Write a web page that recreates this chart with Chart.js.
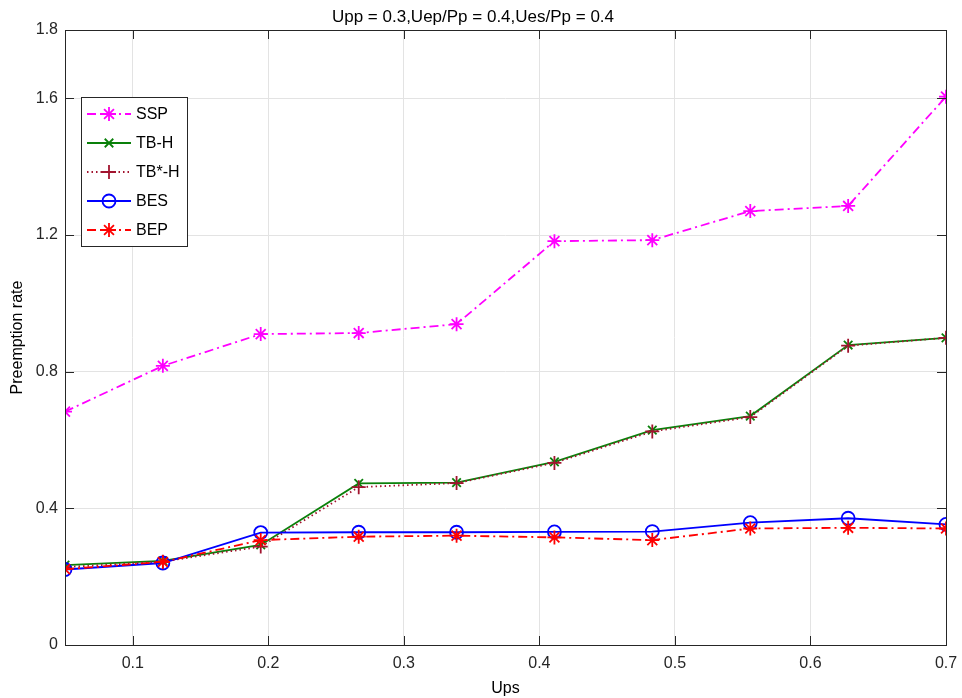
<!DOCTYPE html>
<html>
<head>
<meta charset="utf-8">
<script src="https://cdn.jsdelivr.net/npm/chart.js@4.4.0/dist/chart.umd.min.js"></script>
<style>
	html, body { margin: 0; padding: 0; background: #fff; }
</style>
</head>
<body>
<canvas id="myChart" width="962" height="698"></canvas>
<script>
// x values (Ups) and the five series
const upsValues = [0.05, 0.1222, 0.1944, 0.2667, 0.3389, 0.4111, 0.4833, 0.5556, 0.6278, 0.7];
const sspRate = [0.683, 0.817, 0.910, 0.913, 0.939, 1.182, 1.185, 1.270, 1.285, 1.605];
const tbhRate = [0.234, 0.246, 0.293, 0.473, 0.475, 0.536, 0.629, 0.670, 0.878, 0.899];
const tbStarRate = [0.228, 0.244, 0.288, 0.462, 0.474, 0.533, 0.625, 0.667, 0.876, 0.899];
const besRate = [0.221, 0.240, 0.329, 0.330, 0.330, 0.331, 0.332, 0.358, 0.371, 0.353];
const bepRate = [0.222, 0.243, 0.307, 0.317, 0.320, 0.315, 0.307, 0.341, 0.343, 0.341];

const xTicks = [0.1, 0.2, 0.3, 0.4, 0.5, 0.6, 0.7];
const yTicks = [0, 0.4, 0.8, 1.2, 1.6, 1.8];

const axisColor = '#262626';
const fontFamily = '"Liberation Sans", Arial, sans-serif';

function toPoints(ys) {
	return upsValues.map((x, i) => ({ x: x, y: ys[i] }));
}

function series(label, ys, color, style, radius, dash, order) {
	return {
		label: label,
		data: toPoints(ys),
		borderColor: color,
		backgroundColor: color,
		borderWidth: 1.8,
		borderDash: dash,
		pointStyle: style,
		pointRadius: radius,
		pointBorderWidth: 1.8,
		pointBorderColor: color,
		pointBackgroundColor: 'rgba(0,0,0,0)',
		tension: 0,
		fill: false,
		order: order
	};
}

// box round the plot + inward tick marks (like matlab)
const boxPlugin = {
	id: 'box',
	afterDatasetsDraw(chart) {
		const { ctx, chartArea: a, scales } = chart;
		ctx.save();
		ctx.strokeStyle = axisColor;
		ctx.lineWidth = 1;
		ctx.strokeRect(a.left + 0.5, a.top + 0.5, a.right - a.left, a.bottom - a.top);
		const len = 9;
		ctx.beginPath();
		xTicks.forEach(v => {
			const px = Math.round(scales.x.getPixelForValue(v)) + 0.5;
			ctx.moveTo(px, a.bottom); ctx.lineTo(px, a.bottom - len);
			ctx.moveTo(px, a.top); ctx.lineTo(px, a.top + len);
		});
		yTicks.forEach(v => {
			const py = Math.round(scales.y.getPixelForValue(v)) + 0.5;
			ctx.moveTo(a.left, py); ctx.lineTo(a.left + len, py);
			ctx.moveTo(a.right, py); ctx.lineTo(a.right - len, py);
		});
		ctx.stroke();
		ctx.restore();
	}
};

// legend box in the upper left, drawn from the dataset styles
const legendPlugin = {
	id: 'boxLegend',
	afterDraw(chart) {
		const ctx = chart.ctx;
		const left = 81, top = 97, w = 106, h = 149;
		ctx.save();
		ctx.fillStyle = '#fff';
		ctx.fillRect(left, top, w, h);
		ctx.strokeStyle = axisColor;
		ctx.lineWidth = 1;
		ctx.strokeRect(left + 0.5, top + 0.5, w, h);
		chart.data.datasets.forEach((ds, i) => {
			const y = 114 + i * 29;
			ctx.strokeStyle = ds.borderColor;
			ctx.lineWidth = ds.borderWidth;
			ctx.setLineDash(ds.borderDash || []);
			ctx.beginPath();
			ctx.moveTo(87, y);
			ctx.lineTo(131, y);
			ctx.stroke();
			ctx.setLineDash([]);
			ctx.fillStyle = 'rgba(0,0,0,0)';
			Chart.helpers.drawPoint(ctx, {
				pointStyle: ds.pointStyle,
				radius: ds.pointRadius,
				rotation: 0,
				borderWidth: ds.pointBorderWidth
			}, 109, y);
			ctx.fillStyle = '#000';
			ctx.font = '16px ' + fontFamily;
			ctx.textBaseline = 'middle';
			ctx.textAlign = 'left';
			ctx.fillText(ds.label, 136, y + 1);
		});
		ctx.restore();
	}
};

const ctx = document.getElementById('myChart');

new Chart(ctx, {
	type: 'line',
	data: {
		datasets: [
			series('SSP', sspRate, '#FF00FF', 'star', 7, [9, 4, 2, 4], 5),
			series('TB-H', tbhRate, '#0A800A', 'crossRot', 6, [], 4),
			series('TB*-H', tbStarRate, '#A2142F', 'cross', 7, [1.5, 3], 3),
			series('BES', besRate, '#0000FF', 'circle', 6.5, [], 2),
			series('BEP', bepRate, '#FF0000', 'star', 7, [9, 4, 2, 4], 1)
		]
	},
	options: {
		responsive: false,
		animation: false,
		devicePixelRatio: 1,
		layout: { padding: { left: 0, right: 16, top: 0, bottom: 0 } },
		plugins: {
			legend: { display: false },
			tooltip: { enabled: false },
			title: {
				display: true,
				text: 'Upp = 0.3,Uep/Pp = 0.4,Ues/Pp = 0.4',
				color: '#000',
				font: { size: 17, weight: 'normal', family: fontFamily },
				padding: { top: 7, bottom: 2.6 }
			}
		},
		scales: {
			x: {
				type: 'linear',
				min: 0.05,
				max: 0.7,
				afterBuildTicks: scale => { scale.ticks = xTicks.map(v => ({ value: v })); },
				afterFit: scale => {
					scale.height = 53;
					scale.paddingLeft = 0;
					scale.paddingRight = 0;
				},
				grid: { color: '#e3e3e3', drawTicks: false },
				border: { display: false },
				ticks: {
					padding: 9,
					color: axisColor,
					font: { size: 16, family: fontFamily },
					callback: v => String(v),
					maxRotation: 0
				},
				title: {
					display: true,
					text: 'Ups',
					color: '#000',
					font: { size: 16, family: fontFamily },
					padding: { top: 1, bottom: 0 }
				}
			},
			y: {
				min: 0,
				max: 1.8,
				afterBuildTicks: scale => { scale.ticks = yTicks.map(v => ({ value: v })); },
				afterFit: scale => {
					scale.width = 65;
					scale.paddingTop = 0;
					scale.paddingBottom = 0;
				},
				grid: { color: '#e3e3e3', drawTicks: false },
				border: { display: false },
				ticks: {
					padding: 7,
					color: axisColor,
					font: { size: 16, family: fontFamily },
					callback: v => String(v)
				},
				title: {
					display: true,
					text: 'Preemption rate',
					color: '#000',
					font: { size: 16, family: fontFamily },
					padding: { top: 8, bottom: 0 }
				}
			}
		}
	},
	plugins: [boxPlugin, legendPlugin]
});
</script>
</body>
</html>
